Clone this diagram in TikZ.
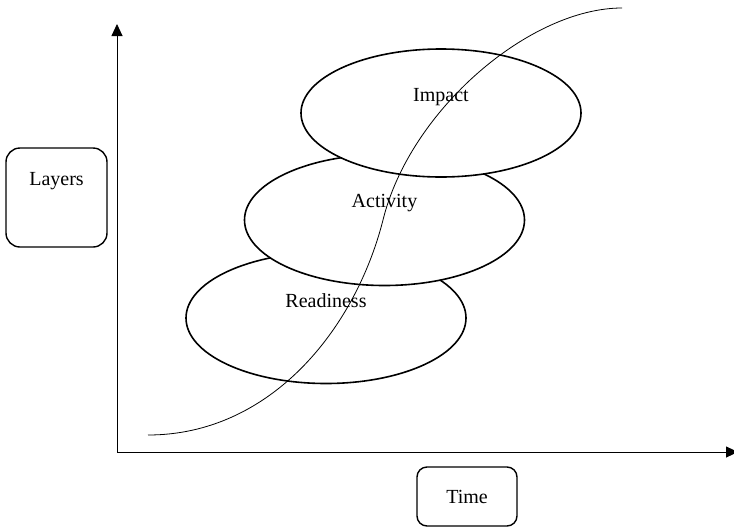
\documentclass[tikz,border=0pt]{standalone}
\usepackage{fontspec}
\setmainfont{Liberation Serif}
\usepackage{tikz}
\usetikzlibrary{shapes.geometric,arrows.meta,positioning}

\begin{document}
\begin{tikzpicture}[x=1pt,y=-1pt,font=\fontsize{20}{22}\selectfont,
    layer/.style={ellipse,draw,line width=1.6pt,fill=white,minimum width=280pt,minimum height=131pt,inner sep=0pt},
    tag/.style={draw,line width=1.4pt,rounded corners=14pt},
    axis/.style={line width=0.9pt,-{Triangle[length=12pt,width=11pt]}},
    scurve/.style={line width=0.8pt}]
    \useasboundingbox (0,0) rectangle (734,528);
    % axes
    \coordinate (o) at (117,452);
    \coordinate (ytip) at (117,24);
    \coordinate (xtip) at (738,452);
    \draw[axis] (o) -- (ytip);
    \draw[axis] (o) -- (xtip);
    % layers, bottom to top
    \node[layer,label={[yshift=17pt]center:Readiness}] (ready) at (326,318) {};
    \node[layer,label={[yshift=17pt]center:Activity}] (act) at (384.5,220) {};
    \node[layer,minimum height=128pt,label={[yshift=16pt]center:Impact}] (imp) at (441,113) {};
    % s-curve
    \coordinate (c0) at (148,435);
    \coordinate (c1) at (383,220);
    \coordinate (c2) at (622,8);
    \draw[scurve] (c0) .. controls (270,435) and (355,330) .. (c1)
                       .. controls (410,110) and (530,8) .. (c2);
    % axis labels
    \node[tag,minimum width=101pt,minimum height=99pt] (layers) at (56.5,197.5) {};
    \node[below=25pt of layers.north,inner sep=0pt] (layerstext) {Layers};
    \node[tag,rounded corners=10pt,minimum width=100pt,minimum height=59pt] (time) at (467,496.5) {Time};
\end{tikzpicture}
\end{document}
